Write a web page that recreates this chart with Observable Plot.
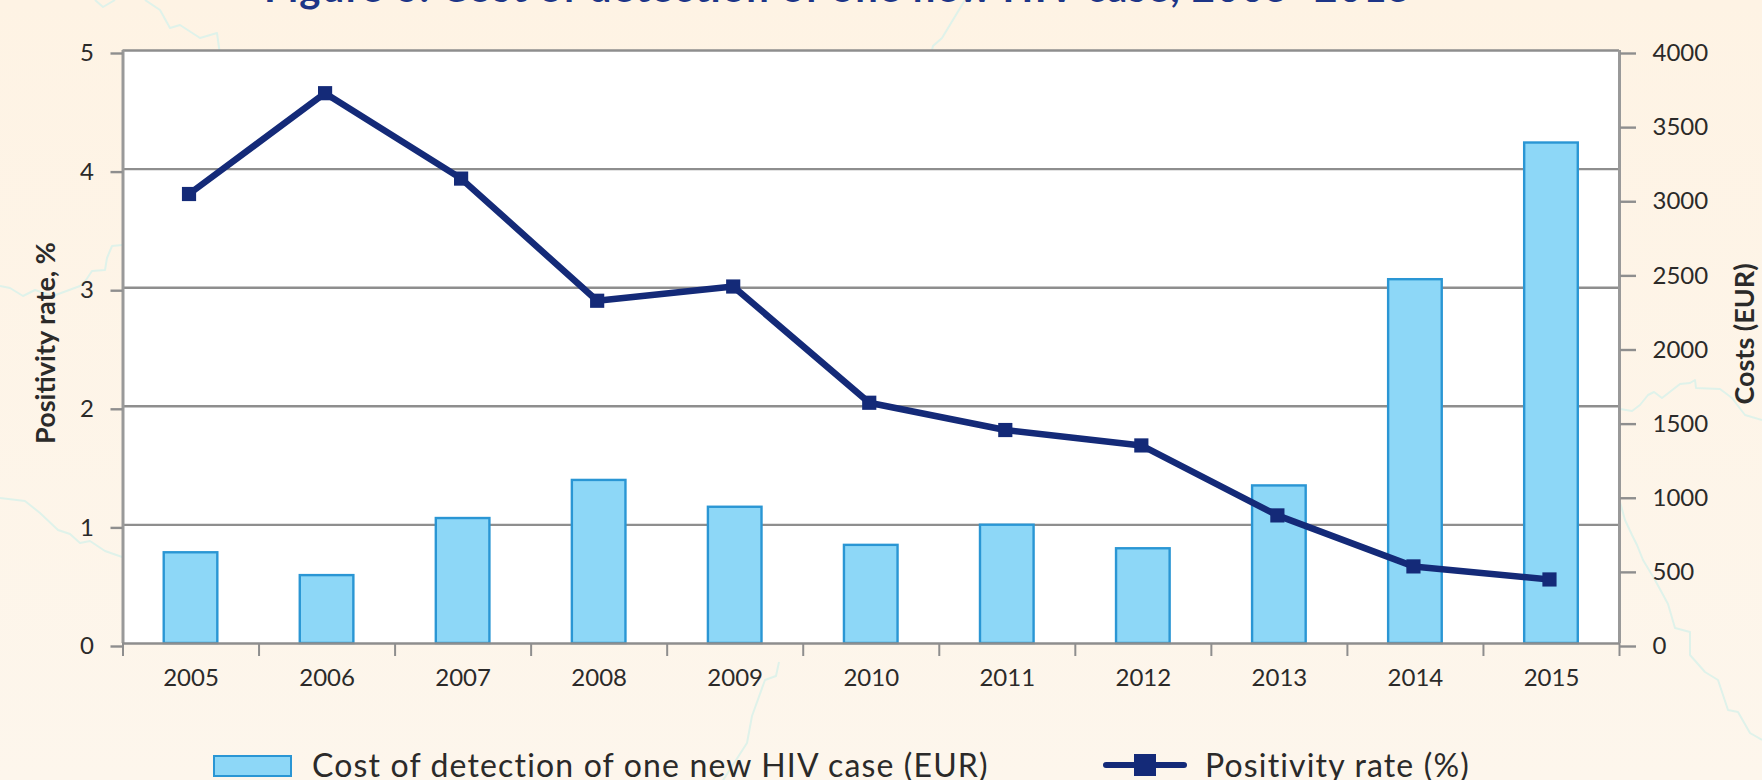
<!DOCTYPE html>
<html><head><meta charset="utf-8">
<script src="https://cdn.jsdelivr.net/npm/d3@7"></script>
<script src="https://cdn.jsdelivr.net/npm/@observablehq/plot@0.6"></script>
<style>
html,body{margin:0;padding:0;width:1762px;height:780px;overflow:hidden;background:#fdf5e9;}
#wrap{position:relative;width:1762px;height:780px;overflow:hidden;font-family:Lato,sans-serif;color:#2b2a29;background:linear-gradient(#fef3e4,#fdf6ec);}
#wrap svg{position:absolute;left:0;top:0;}
#title{position:absolute;left:264px;top:-37px;font:700 40px Lato,sans-serif;letter-spacing:1.3px;color:#1d3587;white-space:nowrap;}
.lg{position:absolute;top:745px;font-size:32px;letter-spacing:1.15px;line-height:40px;white-space:nowrap;}
.sw1{position:absolute;left:213px;top:755px;width:75px;height:18px;background:#8dd7f7;border:2px solid #2a96d4;}
.sw2{position:absolute;left:1103px;top:762px;width:84px;height:6px;border-radius:3px;background:#142a78;}
.sw3{position:absolute;left:1134px;top:754px;width:22px;height:22px;background:#142a78;}
</style></head><body><div id="wrap">
<svg id="map" width="1762" height="780" fill="none" stroke="#dff2ea" stroke-width="2" stroke-linejoin="round"></svg>
<div id="title">Figure 6. Cost of detection of one new HIV case, 2005–2015</div>
<div id="chart"></div>
<div class="sw1"></div><div class="lg" style="left:312px">Cost of detection of one new HIV case (EUR)</div>
<div class="sw2"></div><div class="sw3"></div><div class="lg" style="left:1205px">Positivity rate (%)</div>
</div>
<script>
const years=[2005,2006,2007,2008,2009,2010,2011,2012,2013,2014,2015];
const positivity=[3.79,4.64,3.92,2.89,3.01,2.03,1.80,1.67,1.08,0.65,0.54];
const costs=[612,458,843,1100,919,662,798,639,1063,2454,3376];
const leftTicks=[0,1,2,3,4,5];
const rightTicks=[0,500,1000,1500,2000,2500,3000,3500,4000];
const gridLines=[1,2,3,4,5];
const yearEdges=[2004.5,2005.5,2006.5,2007.5,2008.5,2009.5,2010.5,2011.5,2012.5,2013.5,2014.5,2015.5];
const backgroundContours=[
 "0,286 10,288 23,296 35,290 53,296 80,286 86,280 92,271 105,270 107,258 112,246 122,245",
 "0,498 25,501 40,513 58,530 70,534 80,543 90,541 105,551 125,558 145,561 182,560",
 "95,0 103,7 115,0","145,0 160,10 170,28 180,25 200,38 217,33 220,55 218,85",
 "965,0 942,38 933,46 932,50",
 "779,662 776,676 765,680 752,716 747,743 720,785",
 "1620,409 1632,411 1640,405 1648,395 1654,392 1662,398 1680,384 1690,383 1695,380 1696,388 1720,389 1732,398 1745,415 1762,420",
 "1620,502 1625,520 1632,535 1637,545 1643,560 1655,580 1668,604 1675,628 1690,632 1690,655 1705,672 1718,680 1728,710 1738,712 1750,733 1762,740"];
document.getElementById("map").innerHTML=backgroundContours.map(p=>`<polyline points="${p}"/>`).join("");
const k=800;
const rows=years.map((y,i)=>({year:y,rate:positivity[i],cost:costs[i]}));
const gray="#8e8e8e", axisGray="#999", ink="#2b2a29", navy="#142a78";
const chart=Plot.plot({
  width:1762,height:780,marginLeft:122.5,marginRight:143,marginTop:50,marginBottom:137,
  style:{background:"transparent",fontFamily:"Lato,sans-serif",fontSize:"24px",color:ink,overflow:"visible"},
  x:{type:"linear",domain:[2004.5,2015.5]},
  y:{domain:[0,5]},
  marks:[
    Plot.frame({fill:"white",stroke:"none"}),
    Plot.ruleY(gridLines,{stroke:gray,strokeWidth:2.4}),
    Plot.rectY(rows,{x1:d=>d.year-0.197,x2:d=>d.year+0.197,y1:0,y2:d=>d.cost/k,fill:"#8dd7f7",stroke:"#2a96d4",strokeWidth:2.4}),
    Plot.ruleX([2004.5,2015.5],{stroke:axisGray,strokeWidth:3}),
    Plot.ruleY([0],{stroke:gray,strokeWidth:2.4}),
    Plot.line(rows,{x:"year",y:"rate",dx:-2,stroke:navy,strokeWidth:6.5,strokeLinejoin:"miter"}),
    Plot.dot(rows,{x:"year",y:"rate",dx:-2,symbol:"square",r:8,fill:navy,stroke:"none"}),
    Plot.axisX(yearEdges,{anchor:"bottom",tickSize:13,tickFormat:()=>"",stroke:gray,strokeWidth:2,label:null}),
    Plot.axisX(years,{anchor:"bottom",tickSize:0,tickPadding:25,tickFormat:d=>String(d),label:null,stroke:"none",fill:ink}),
    Plot.axisY(leftTicks,{anchor:"left",tickSize:12,tickPadding:17,stroke:gray,strokeWidth:2.4,tickFormat:d=>String(d),label:null,fill:ink,dy:3}),
    Plot.axisY(rightTicks.map(v=>v/k),{anchor:"right",tickSize:16,tickPadding:17,stroke:gray,strokeWidth:2.4,tickFormat:v=>String(Math.round(v*k)),label:null,fill:ink,dy:3}),
    Plot.text(["Positivity rate, %"],{frameAnchor:"left",textAnchor:"middle",dx:-77,dy:-4,rotate:-90,fontWeight:700,fontSize:27,fill:ink,style:{letterSpacing:"2.2px"}}),
    Plot.text(["Costs (EUR)"],{frameAnchor:"right",textAnchor:"middle",dx:126,dy:-13,rotate:-90,fontWeight:700,fontSize:27,fill:ink,style:{letterSpacing:"1.9px"}})
  ]
});
document.getElementById("chart").appendChild(chart);
</script></body></html>
